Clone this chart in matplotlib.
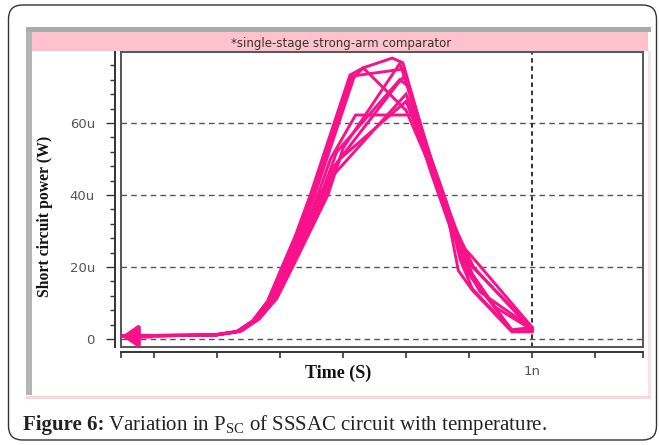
import matplotlib.pyplot as plt
from matplotlib.patches import Rectangle, FancyBboxPatch
import numpy as np

plt.rcParams['mathtext.fontset'] = 'custom'
plt.rcParams['mathtext.rm'] = 'Liberation Serif'
plt.rcParams['mathtext.bf'] = 'Liberation Serif:bold'

# time in ns, power in uW, one curve per temperature run
t1 = [0.349, 0.497, 0.530, 0.556, 0.580, 0.603, 0.625, 0.648, 0.711, 0.732, 0.778, 0.795, 0.830, 0.858, 0.895, 0.918, 1.0]
p1 = [0.8, 1.1, 2.0, 5.0, 10.5, 20, 29, 40, 73.3, 75.3, 78, 76.7, 55, 40, 20, 13, 3.0]
t2 = [0.349, 0.497, 0.532, 0.558, 0.582, 0.606, 0.628, 0.652, 0.714, 0.797, 0.835, 0.862, 0.883, 0.905, 0.968, 1.0]
p2 = [0.9, 1.2, 2.1, 5.2, 10.8, 20, 29, 40, 73, 75, 52, 38, 19, 13.6, 2.0, 2.0]
t3 = [0.349, 0.497, 0.533, 0.559, 0.584, 0.608, 0.630, 0.655, 0.717, 0.732, 0.800, 0.838, 0.866, 0.895, 0.968, 1.0]
p3 = [0.8, 1.1, 2.0, 5.1, 10.6, 20, 29, 40, 72.5, 75.3, 63.5, 48, 35, 19, 2.6, 3.2]
t4 = [0.349, 0.497, 0.535, 0.562, 0.588, 0.612, 0.636, 0.660, 0.680, 0.720, 0.810, 0.840, 0.872, 0.905, 0.940, 1.0]
p4 = [0.8, 1.1, 2.2, 5.5, 11, 20, 30, 40, 50, 62.2, 62.2, 46, 30, 18, 9, 2.6]
t5 = [0.349, 0.497, 0.536, 0.563, 0.590, 0.614, 0.640, 0.665, 0.690, 0.790, 0.805, 0.840, 0.870, 0.905, 0.968, 1.0]
p5 = [0.9, 1.2, 2.2, 5.4, 11, 20, 30, 40, 52, 72, 70, 50, 35, 18, 2.1, 2.2]
t6 = [0.349, 0.497, 0.537, 0.564, 0.591, 0.616, 0.642, 0.668, 0.686, 0.785, 0.797, 0.835, 0.868, 0.900, 1.0]
p6 = [0.8, 1.1, 2.3, 5.6, 11.2, 20, 30, 40, 48, 70.5, 73, 51, 34, 21, 3.0]
t7 = [0.349, 0.497, 0.538, 0.566, 0.593, 0.618, 0.645, 0.672, 0.695, 0.800, 0.845, 0.875, 0.907, 1.0]
p7 = [0.8, 1.1, 2.2, 5.5, 11, 20, 30, 40, 50, 66, 46, 32, 20, 2.5]
t8 = [0.349, 0.497, 0.539, 0.567, 0.595, 0.620, 0.648, 0.676, 0.700, 0.790, 0.803, 0.842, 0.878, 0.905, 1.0]
p8 = [0.9, 1.2, 2.3, 5.6, 11.3, 20, 30, 40, 53, 76.5, 70, 48, 28, 22.8, 3.3]
t9 = [0.349, 0.497, 0.534, 0.560, 0.586, 0.610, 0.638, 0.662, 0.682, 0.800, 0.836, 0.864, 0.886, 0.905, 0.968, 1.0]
p9 = [0.8, 1.1, 2.1, 5.3, 10.8, 20, 30, 40, 45, 68, 52, 38, 22, 14, 2.3, 2.4]

runs_t = [t1, t2, t3, t4, t5, t6, t7, t8, t9]
runs_p = [p1, p2, p3, p4, p5, p6, p7, p8, p9]

ytick_vals = [0, 20, 40, 60]
ytick_labels = ['0', '20u', '40u', '60u']
xtick_vals = [0.4, 0.5, 0.6, 0.7, 0.8, 0.9, 1.0, 1.1]

pink = '#f7128b'
xmin, xmax = 0.3476, 1.176
ymin, ymax = -2.2, 79.7

W, H = 659, 445
fig = plt.figure(figsize=(W / 100, H / 100), dpi=100)
fig.patch.set_facecolor('white')

def rect(x0, y0, x1, y1, color, z=0):
    fig.patches.append(Rectangle((x0 / 100, (H - y1) / 100), (x1 - x0) / 100, (y1 - y0) / 100,
                                 transform=fig.dpi_scale_trans, facecolor=color,
                                 edgecolor='none', zorder=z))

# outer rounded frame
fig.patches.append(FancyBboxPatch((0.085, 0.05), 6.48, 4.35,
                                  boxstyle='round,pad=0,rounding_size=0.14',
                                  transform=fig.dpi_scale_trans, facecolor='white',
                                  edgecolor='#333333', lw=1.0, zorder=0))

# simulator window panel
rect(26, 27, 651, 32, '#ababab', 1)
rect(32, 32, 648, 51, '#ffc2cc', 1)
rect(26, 32, 32, 395, '#b5b5b5', 1)
rect(648, 51, 651, 398, '#fbe2e6', 1)
rect(26, 396, 651, 399, '#f8d6dc', 1)

fig.text(341 / W, 1 - 43 / H, '*single-stage strong-arm comparator', ha='center', va='center',
         fontsize=8.5, color='#333333', family='DejaVu Sans')

pos = [121 / W, 1 - 347 / H, (643 - 121) / W, (347 - 52) / H]
ax = fig.add_axes(pos)
ax.set_zorder(5)
ax.set_xlim(xmin, xmax)
ax.set_ylim(ymin, ymax)
for s in ax.spines.values():
    s.set_color('#555555')
    s.set_linewidth(1.4)
ax.set_xticks([])
ax.set_yticks([])

for yv in ytick_vals:
    ax.axhline(yv, color='#555555', lw=1.0, ls=(0, (4, 3)), zorder=1)
ax.axvline(1.0, color='#222222', lw=1.3, ls=(0, (2.5, 2)), zorder=1)

for tt, pp in zip(runs_t, runs_p):
    ax.plot(tt, pp, color=pink, lw=2.1, solid_joinstyle='miter', zorder=3)

# cursor arrow at the start of the traces
ax.annotate('', xy=(t1[0], p1[0]), xytext=(t1[0] + 0.045, p1[0]),
            arrowprops=dict(arrowstyle='-|>,head_length=0.5,head_width=0.35', color=pink,
                            lw=3.4, mutation_scale=18, shrinkA=0, shrinkB=0),
            zorder=4)

# offset axis lines with ticks
ax2 = fig.add_axes(pos, facecolor='none')
ax2.set_zorder(6)
ax2.set_xlim(xmin, xmax)
ax2.set_ylim(ymin, ymax)
for side in ['top', 'right']:
    ax2.spines[side].set_visible(False)
ax2.spines['left'].set_position(('outward', 4.3))
ax2.spines['bottom'].set_position(('outward', 3.6))
for side in ['left', 'bottom']:
    ax2.spines[side].set_color('#333333')
    ax2.spines[side].set_linewidth(1.4)
ax2.set_yticks(ytick_vals)
ax2.set_yticklabels(ytick_labels)
ax2.set_yticks(np.arange(0, 77, 4), minor=True)
ax2.tick_params(axis='y', which='major', direction='out', length=6.5, width=1.0,
                color='#333333', pad=8, labelsize=9.5, labelcolor='#555555')
ax2.tick_params(axis='y', which='minor', direction='out', length=3.6, width=1.0, color='#333333')
ax2.set_xticks([xmin] + xtick_vals + [xmax])
ax2.set_xticklabels(['' if v != 1.0 else '1n' for v in [xmin] + xtick_vals + [xmax]])
ax2.tick_params(axis='x', which='major', direction='out', length=4.3, width=1.2,
                color='#333333', pad=5, labelsize=9.5, labelcolor='#555555')

fig.text(45 / W, 1 - 216 / H, 'Short circuit power (W)', rotation=90, ha='center', va='center',
         fontsize=11.3, fontweight='bold', family='Liberation Serif', color='#111111')
fig.text(338 / W, 1 - 373 / H, 'Time (S)', ha='center', va='center',
         fontsize=13, fontweight='bold', family='Liberation Serif', color='#111111')

cap_b = fig.text(23 / W, 1 - 430 / H, 'Figure 6:', ha='left', va='baseline', fontsize=15,
                 fontweight='bold', family='Liberation Serif', color='#222222')
fig.canvas.draw()
bb = cap_b.get_window_extent(fig.canvas.get_renderer())
fig.text(bb.x1 / W + 4 / W, 1 - 430 / H,
         r'Variation in P$_{\mathrm{SC}}$ of SSSAC circuit with temperature.',
         ha='left', va='baseline', fontsize=15, family='Liberation Serif', color='#222222')

fig.savefig('out.png', dpi=100)
